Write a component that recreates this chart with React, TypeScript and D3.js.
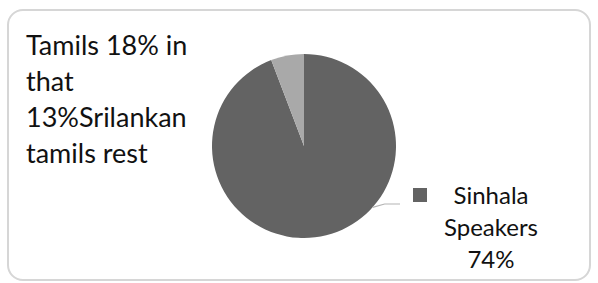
import React, { useEffect, useRef } from "react";
import * as d3 from "d3";

const categories = ["Sinhala Speakers", "Tamils"];
const values = [94.2, 5.8];
const colors = ["#636363", "#a9a9a9"];
const titleLines = ["Tamils 18% in", "that", "13%Srilankan", "tamils rest"];
const labelLines = ["Sinhala", "Speakers", "74%"];

const App = () => {
  const ref = useRef<SVGSVGElement>(null);

  useEffect(() => {
    const svg = d3.select(ref.current);
    svg.selectAll("*").remove();

    const width = 598;
    const height = 283;
    const font = "Lato, 'Open Sans', sans-serif";

    svg.attr("width", width).attr("height", height);

    // chart area border
    svg.append("rect")
      .attr("x", 8).attr("y", 10)
      .attr("width", 582).attr("height", 270)
      .attr("rx", 15)
      .attr("fill", "#fff")
      .attr("stroke", "#d6d6d6")
      .attr("stroke-width", 2);

    const cx = 304, cy = 146, r = 92;
    const pie = d3.pie<number>().sort(null).value((d) => d);
    const arc = d3.arc<d3.PieArcDatum<number>>().innerRadius(0).outerRadius(r);

    const g = svg.append("g").attr("transform", `translate(${cx},${cy})`);
    const arcs = pie(values);
    g.selectAll("path")
      .data(arcs)
      .enter().append("path")
      .attr("d", arc)
      .attr("fill", (d, i) => colors[i]);

    // leader line for the big slice
    const a0 = 2.3; // angle on the rim where the line starts
    const p0 = [Math.sin(a0) * r, -Math.cos(a0) * r];
    g.append("polyline")
      .attr("points", [p0, [p0[0] + 12, 58], [96, 58]].map((p) => p.join(",")).join(" "))
      .attr("fill", "none")
      .attr("stroke", "#b4b4b4")
      .attr("stroke-width", 1.2);

    // legend key + data label
    svg.append("rect")
      .attr("x", 413).attr("y", 188)
      .attr("width", 14).attr("height", 14)
      .attr("fill", colors[0]);

    svg.append("text")
      .attr("font-family", font)
      .attr("font-size", 24)
      .attr("fill", "#111")
      .attr("text-anchor", "middle")
      .selectAll("tspan")
      .data(labelLines)
      .enter().append("tspan")
      .attr("x", 491)
      .attr("y", (d, i) => 204 + i * 32)
      .text((d) => d);

    // text box at top left
    svg.append("text")
      .attr("font-family", font)
      .attr("font-size", 27)
      .attr("fill", "#111")
      .selectAll("tspan")
      .data(titleLines)
      .enter().append("tspan")
      .attr("x", 26)
      .attr("y", (d, i) => 55 + i * 36)
      .text((d) => d);

    svg.append("title").text(categories.join(", "));
  }, []);

  return <svg ref={ref} style={{ position: "absolute", left: 0, top: 0 }}></svg>;
};

export default App;
